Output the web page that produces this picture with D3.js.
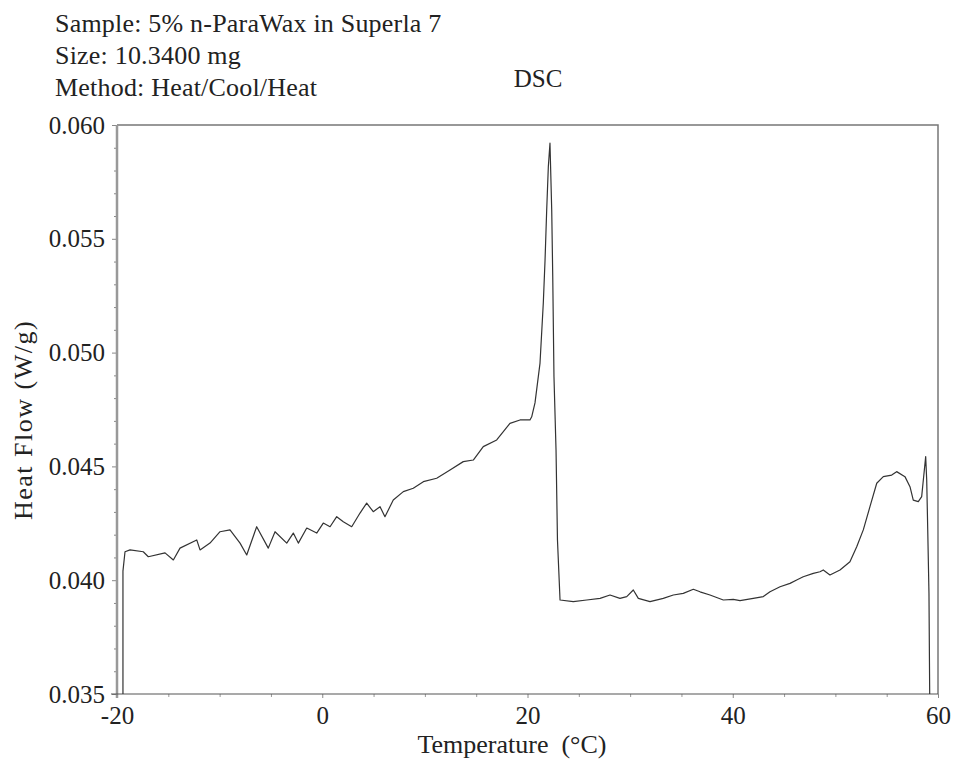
<!DOCTYPE html>
<html>
<head>
<meta charset="utf-8">
<script src="https://cdn.jsdelivr.net/npm/d3@7"></script>
<style>
  body { margin: 0; background: #fff; }
  text { font-family: "Liberation Serif", "Times New Roman", serif; fill: #222; }
</style>
</head>
<body>
<div id="chart"></div>
<script>
"use strict";
//header lines printed above the plot
var headerLines = [
  "Sample: 5% n-ParaWax in Superla 7",
  "Size: 10.3400 mg",
  "Method: Heat/Cool/Heat"
];

//DSC trace, temperature in °C
var temps = [
  -19.42, -19.42, -19.22, -18.73, -17.44, -16.95, -15.32, -14.51, -13.86, -12.23,
  -11.91, -10.94, -9.96, -8.99, -8.01, -7.36, -6.39, -5.26, -4.60, -3.46,
  -2.82, -2.33, -1.51, -0.54, 0.10, 0.76, 1.41, 2.05, 2.87, 3.68,
  4.33, 4.97, 5.63, 6.11, 6.92, 7.90, 8.87, 9.85, 11.15, 12.45,
  13.74, 14.72, 15.69, 17.00, 18.29, 19.27, 20.24, 20.41, 20.73, 21.22,
  21.54, 21.71, 21.87, 22.03, 22.19, 22.36, 22.46, 22.58, 22.78, 22.92,
  23.17, 24.46, 25.77, 27.07, 28.04, 29.01, 29.67, 30.31, 30.80, 31.94,
  33.23, 34.21, 35.18, 36.16, 36.81, 37.78, 39.08, 40.05, 40.71, 42.00,
  42.98, 43.63, 44.61, 45.58, 46.23, 46.87, 47.85, 48.50, 48.82, 49.47,
  50.45, 51.42, 52.08, 52.72, 53.37, 54.03, 54.67, 55.49, 55.97, 56.78,
  57.27, 57.59, 58.08, 58.41, 58.57, 58.80, 58.90, 59.00, 59.12, 59.19
];

//heat flow in W/g
var heatFlow = [
  0.0350, 0.0404, 0.04125, 0.04133, 0.04125, 0.04103, 0.04120, 0.04089, 0.04141, 0.04177,
  0.04133, 0.04163, 0.04213, 0.04221, 0.04163, 0.04111, 0.04235, 0.04141, 0.04213, 0.04163,
  0.04207, 0.04163, 0.04229, 0.04207, 0.04251, 0.04235, 0.04279, 0.04257, 0.04235, 0.04295,
  0.04339, 0.04301, 0.04323, 0.04279, 0.04352, 0.04389, 0.04404, 0.04433, 0.04448, 0.04484,
  0.04521, 0.04528, 0.04587, 0.04616, 0.04689, 0.04704, 0.04704, 0.04718, 0.04779, 0.04954,
  0.05218, 0.05407, 0.05627, 0.05817, 0.05920, 0.05627, 0.05333, 0.04894, 0.04572, 0.04177,
  0.03913, 0.03906, 0.03913, 0.03920, 0.03935, 0.03920, 0.03928, 0.03957, 0.03920, 0.03906,
  0.03920, 0.03935, 0.03942, 0.03960, 0.03949, 0.03935, 0.03913, 0.03916, 0.03910, 0.03920,
  0.03928, 0.03949, 0.03971, 0.03986, 0.04001, 0.04015, 0.04030, 0.04037, 0.04045, 0.04023,
  0.04045, 0.04081, 0.04147, 0.04221, 0.04323, 0.04426, 0.04455, 0.04462, 0.04477, 0.04455,
  0.04411, 0.04352, 0.04345, 0.04367, 0.04440, 0.04543, 0.04440, 0.04221, 0.03944, 0.0350
];

var xMajor = [-20, 0, 20, 40, 60];
var xMinor = [-15, -10, -5, 5, 10, 15, 25, 30, 35, 45, 50, 55];
var yMajor = [0.035, 0.040, 0.045, 0.050, 0.055, 0.060];
var yMinor = [0.036, 0.037, 0.038, 0.039, 0.041, 0.042, 0.043, 0.044,
  0.046, 0.047, 0.048, 0.049, 0.051, 0.052, 0.053, 0.054,
  0.056, 0.057, 0.058, 0.059];

var w = 958,
  h = 760,
  plotLeft = 117,
  plotRight = 938,
  plotTop = 125,
  plotBottom = 694;

var svg = d3
  .select("#chart")
  .append("svg")
  .attr("width", w)
  .attr("height", h);

var x = d3.scaleLinear().domain([-20, 60]).range([plotLeft, plotRight]);
var y = d3.scaleLinear().domain([0.035, 0.060]).range([plotBottom, plotTop]);

//header text
svg
  .selectAll(".header")
  .data(headerLines)
  .enter()
  .append("text")
  .attr("class", "header")
  .attr("x", 55)
  .attr("y", function(d, i) {
    return 32 + i * 32;
  })
  .style("font-size", "26px")
  .style("letter-spacing", "0.2px")
  .text(function(d) {
    return d;
  });

svg
  .append("text")
  .attr("x", 538)
  .attr("y", 87)
  .attr("text-anchor", "middle")
  .style("font-size", "25px")
  .text("DSC");

//frame: top and right borders
svg
  .append("path")
  .attr("d", "M" + plotLeft + "," + plotTop + "H" + plotRight + "V" + plotBottom)
  .attr("fill", "none")
  .attr("stroke", "#777")
  .attr("stroke-width", 1.5);

//minor ticks
svg
  .append("g")
  .attr("transform", "translate(" + plotLeft + ",0)")
  .call(d3.axisLeft(y).tickValues(yMinor).tickSize(3).tickFormat(""))
  .call(function(g) {
    g.select(".domain").remove();
    g.selectAll("line").attr("stroke", "#888");
  });

svg
  .append("g")
  .attr("transform", "translate(0," + plotBottom + ")")
  .call(d3.axisBottom(x).tickValues(xMinor).tickSize(3).tickFormat(""))
  .call(function(g) {
    g.select(".domain").remove();
    g.selectAll("line").attr("stroke", "#999");
  });

//major y axis
svg
  .append("g")
  .attr("transform", "translate(" + plotLeft + ",0)")
  .call(
    d3
      .axisLeft(y)
      .tickValues(yMajor)
      .tickSize(5)
      .tickPadding(7)
      .tickFormat(d3.format(".3f"))
  )
  .call(function(g) {
    g.select(".domain").remove();
    g.selectAll("line").attr("stroke", "#888");
    g.selectAll("text")
      .style("font-family", "Liberation Serif, serif")
      .style("font-size", "25px")
      .attr("fill", "#333");
  });

//major x axis, plain hyphen for negatives
svg
  .append("g")
  .attr("transform", "translate(0," + plotBottom + ")")
  .call(
    d3
      .axisBottom(x)
      .tickValues(xMajor)
      .tickSize(4)
      .tickPadding(8)
      .tickFormat(function(d) {
        return String(d);
      })
  )
  .call(function(g) {
    g.select(".domain").remove();
    g.selectAll("line").attr("stroke", "#888");
    g.selectAll("text")
      .style("font-family", "Liberation Serif, serif")
      .style("font-size", "25px")
      .attr("fill", "#222");
  });

//axis lines
svg
  .append("line")
  .attr("x1", plotLeft)
  .attr("x2", plotLeft)
  .attr("y1", plotTop)
  .attr("y2", plotBottom + 4)
  .attr("stroke", "#999")
  .attr("stroke-width", 2.5);

svg
  .append("line")
  .attr("x1", plotLeft - 6)
  .attr("x2", plotRight)
  .attr("y1", plotBottom)
  .attr("y2", plotBottom)
  .attr("stroke", "#555")
  .attr("stroke-width", 1.2);

//axis titles
svg
  .append("text")
  .attr("x", 512)
  .attr("y", 753)
  .attr("text-anchor", "middle")
  .style("font-size", "26px")
  .style("white-space", "pre")
  .text("Temperature  (\u00B0C)");

svg
  .append("text")
  .attr("transform", "translate(32,420) rotate(-90)")
  .attr("text-anchor", "middle")
  .style("font-size", "26px")
  .style("letter-spacing", "1.5px")
  .text("Heat Flow (W/g)");

//the trace
var points = temps.map(function(t, i) {
  return [t, heatFlow[i]];
});

var line = d3
  .line()
  .x(function(d) {
    return x(d[0]);
  })
  .y(function(d) {
    return y(d[1]);
  });

svg
  .append("path")
  .datum(points)
  .attr("d", line)
  .attr("fill", "none")
  .attr("stroke", "#333")
  .attr("stroke-width", 1.2)
  .attr("stroke-linejoin", "round");
</script>
</body>
</html>
